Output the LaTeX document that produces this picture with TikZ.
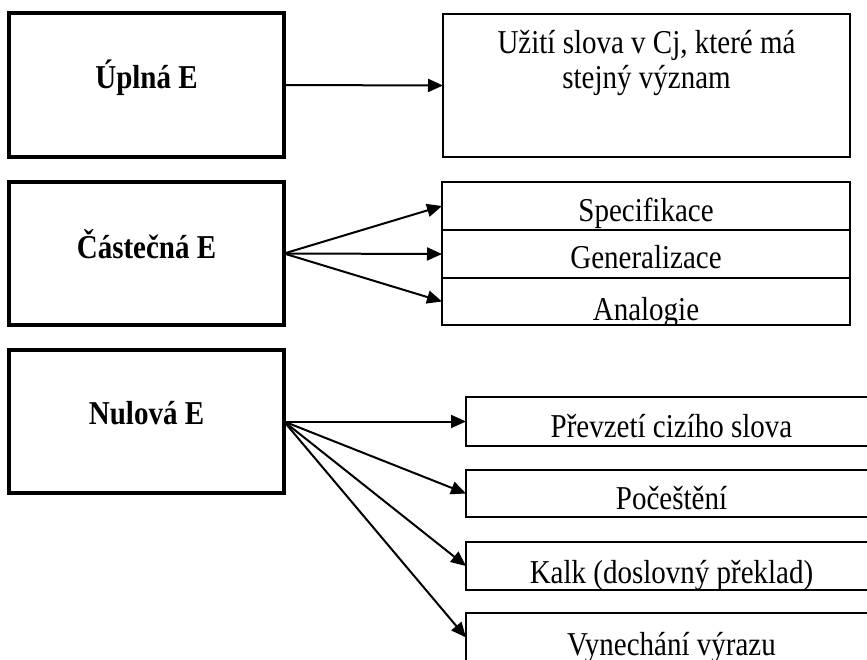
\documentclass[tikz,border=0pt]{standalone}
\usepackage{fontspec}
\usepackage{graphicx}
\setmainfont{Liberation Serif}
\usetikzlibrary{arrows.meta}
\newcommand{\tallt}[1]{\scalebox{1}[1.15]{#1}}
\begin{document}
\begin{tikzpicture}[x=1pt,y=-1pt,
  bigbox/.style={draw, line width=3.5pt, inner sep=0pt, outer sep=0pt},
  thinbox/.style={draw, line width=2pt, inner sep=0pt, outer sep=0pt},
  boldtxt/.style={font=\fontsize{29}{34}\selectfont\bfseries, inner sep=0pt, anchor=base},
  txt/.style={font=\fontsize{29}{34}\selectfont, inner sep=0pt, anchor=base},
  arr/.style={line width=2pt, -{Triangle[length=15pt,width=13pt]}}]
\clip (0,0) rectangle (867,659);
% left boxes
\node[bigbox, minimum width=275pt, minimum height=144pt] (A) at (146.5,85) {};
\node[boldtxt] (At) at (146.5,88) {\tallt{Úplná E}};
\node[bigbox, minimum width=275pt, minimum height=143pt] (C) at (146.5,253.5) {};
\node[boldtxt] (Ct) at (146.5,258) {\tallt{Částečná E}};
\node[bigbox, minimum width=275pt, minimum height=143pt] (N) at (146.5,421.5) {};
\node[boldtxt] (Nt) at (146.5,424) {\tallt{Nulová E}};
% right upper box
\node[thinbox, line width=2.5pt, minimum width=407pt, minimum height=143pt] (B) at (646.5,85.5) {};
\node[txt] (Bt1) at (646.5,53) {\tallt{Užití slova v Cj, které má}};
\node[txt] (Bt2) at (646.5,88) {\tallt{stejný význam}};
% partial equivalence boxes
\node[thinbox, minimum width=408pt, minimum height=48pt] (spec) at (646,206) {};
\node[thinbox, minimum width=408pt, minimum height=48pt] (gen) at (646,254) {};
\node[thinbox, minimum width=408pt, minimum height=47pt] (ana) at (646,301.5) {};
\begin{scope}\clip (spec.south west) rectangle (spec.north east);
\node[txt] (spect) at (646,221) {\tallt{Specifikace}};\end{scope}
\begin{scope}\clip (gen.south west) rectangle (gen.north east);
\node[txt] (gent) at (646,268) {\tallt{Generalizace}};\end{scope}
\begin{scope}\clip (ana.south west) rectangle (ana.north east);
\node[txt] (anat) at (646,320) {\tallt{Analogie}};\end{scope}
% zero equivalence boxes
\node[thinbox, line width=2.5pt, minimum width=411pt, minimum height=49pt] (prev) at (671.5,421.5) {};
\node[thinbox, line width=2.5pt, minimum width=411pt, minimum height=47pt] (poc) at (671.5,493.5) {};
\node[thinbox, line width=2.5pt, minimum width=411pt, minimum height=48pt] (kalk) at (671.5,566) {};
\node[thinbox, line width=2.5pt, minimum width=411pt, minimum height=49pt] (vyn) at (671.5,637.5) {};
\begin{scope}\clip (prev.south west) rectangle (prev.north east);
\node[txt] (prevt) at (671.5,437) {\tallt{Převzetí cizího slova}};\end{scope}
\begin{scope}\clip (poc.south west) rectangle (poc.north east);
\node[txt] (poct) at (671.5,509) {\tallt{Počeštění}};\end{scope}
\begin{scope}\clip (kalk.south west) rectangle (kalk.north east);
\node[txt] (kalkt) at (671.5,583) {\tallt{Kalk (doslovný překlad)}};\end{scope}
\begin{scope}\clip (vyn.south west) rectangle (vyn.north east);
\node[txt] (vynt) at (671.5,655) {\tallt{Vynechání výrazu}};\end{scope}
% arrows
\draw[arr] (A.east) -- (B.west);
\draw[arr] (C.east) -- (spec.west);
\draw[arr] (C.east) -- (gen.west);
\draw[arr] (C.east) -- (ana.west);
\draw[arr] (N.east) -- (prev.west);
\draw[arr] (N.east) -- (poc.west);
\draw[arr] (N.east) -- (kalk.west);
\draw[arr] (N.east) -- (vyn.west);
\end{tikzpicture}
\end{document}
